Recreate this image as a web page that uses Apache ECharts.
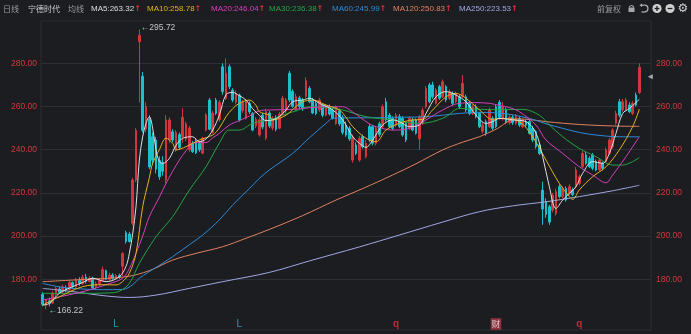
<!DOCTYPE html>
<html><head><meta charset="utf-8">
<script src="https://cdn.jsdelivr.net/npm/echarts@6/dist/echarts.min.js"></script>
<style>html,body{margin:0;padding:0;background:#1c1d21;}#c{width:691px;height:334px;}</style>
</head><body><div id="c"></div>
<script>
// [open, close, low, high]
const candles = [
[173.0,168.5,167.5,174.0],[168.0,170.5,166.22,171.0],[170.0,168.8,167.5,171.5],[169.0,173.5,168.5,174.5],[173.0,175.8,172.0,176.5],
[175.5,174.0,173.2,176.8],[174.2,176.5,173.5,177.5],[176.0,175.0,174.0,177.2],[175.2,178.6,174.8,179.5],[178.5,176.8,175.5,179.0],
[176.5,179.8,176.0,180.6],[179.5,178.2,177.0,181.0],[178.0,181.0,177.5,182.0],[181.0,179.0,178.0,182.5],[179.0,180.5,178.5,181.5],
[180.5,176.0,175.5,181.2],[176.5,178.0,175.5,179.0],[177.8,179.5,177.0,180.5],[179.5,184.5,179.0,186.0],[184.0,180.0,179.5,184.5],
[180.0,182.0,179.0,183.0],[182.0,180.5,179.8,182.8],[180.5,181.8,180.0,182.5],[181.8,181.0,180.2,182.6],[186.0,192.0,181.5,192.5],
[201.5,197.5,196.5,202.5],[201.0,197.5,197.0,202.0],[206.0,226.0,205.0,227.0],[226.0,249.0,225.0,250.0],[290.0,293.0,261.8,295.72],
[274.0,249.0,248.0,276.0],[249.5,260.0,248.0,262.0],[254.0,232.0,231.0,256.0],[246.0,235.2,233.0,248.0],[244.5,231.0,229.0,246.0],
[235.0,227.5,226.0,237.0],[234.0,230.0,228.0,237.0],[226.0,253.8,224.4,256.0],[244.5,253.8,243.0,255.0],[248.3,244.5,243.5,249.5],
[240.0,248.0,239.0,249.0],[247.0,241.0,240.0,248.0],[246.0,255.0,243.0,259.2],[245.0,252.0,244.0,253.0],[240.0,250.0,239.0,251.0],
[243.0,239.1,238.5,244.0],[244.0,238.5,238.0,245.0],[243.0,240.0,239.0,244.0],[238.4,245.3,238.0,246.0],[249.1,256.1,248.5,257.0],
[263.0,249.5,249.0,264.0],[248.0,257.0,247.5,258.0],[263.0,256.8,256.0,264.0],[254.0,262.0,253.0,263.0],[278.4,266.9,265.5,280.0],
[263.8,275.4,263.0,282.3],[278.4,269.2,268.0,279.5],[267.6,263.0,262.0,268.5],[262.0,266.0,261.0,267.5],[265.3,253.8,253.0,266.0],
[258.0,262.0,257.0,263.0],[254.5,262.2,254.0,263.0],[261.5,257.5,256.5,262.5],[256.8,249.1,248.5,257.5],[251.0,254.0,250.0,255.0],
[246.8,253.8,246.0,255.0],[256.0,250.5,249.5,257.0],[245.3,257.6,244.5,259.0],[257.0,251.0,250.0,258.0],[250.0,254.0,249.0,255.5],
[255.0,249.5,248.5,256.0],[250.0,256.5,249.5,257.5],[256.8,263.8,256.0,265.0],[258.0,263.0,257.0,264.0],[275.4,263.0,262.0,276.5],
[267.0,260.0,259.5,268.0],[258.5,264.5,258.0,266.0],[264.0,260.0,259.0,265.0],[263.0,259.0,258.0,264.0],[264.6,272.0,264.0,273.5],
[268.4,262.2,261.5,269.5],[263.0,257.0,256.5,264.0],[261.5,256.8,256.0,262.5],[258.4,263.0,257.5,264.0],[260.7,256.0,255.0,261.5],
[256.0,259.9,255.5,261.0],[259.9,256.5,255.8,261.0],[258.4,254.5,254.0,259.5],[252.2,259.9,251.5,260.5],[258.0,252.0,251.0,259.0],
[255.0,248.0,247.0,256.0],[251.4,246.8,246.0,253.0],[250.0,245.0,244.0,251.0],[235.2,246.0,234.0,247.0],[242.2,238.3,237.5,243.5],
[235.2,245.3,234.5,246.5],[246.0,241.4,240.5,247.0],[236.8,243.0,236.0,244.5],[250.7,244.5,243.5,252.0],[250.7,243.0,242.0,251.5],
[243.0,249.9,242.0,251.0],[252.0,247.0,246.0,253.0],[250.7,259.9,250.0,261.0],[262.2,253.8,253.0,264.0],[256.0,250.7,250.0,257.0],
[254.5,249.9,249.0,255.5],[251.4,256.0,250.5,257.0],[255.3,250.7,250.0,256.5],[254.5,246.8,246.0,255.5],[252.2,244.5,243.5,253.0],
[249.9,254.5,249.0,255.5],[253.8,249.1,248.5,255.0],[253.8,247.6,247.0,254.5],[245.0,255.3,240.0,256.0],[252.2,258.4,251.5,259.5],
[259.9,268.4,259.0,269.5],[270.0,262.2,261.5,271.0],[270.0,264.5,263.5,271.5],[261.5,267.6,261.0,268.5],[269.2,263.8,263.0,270.0],
[264.5,271.5,264.0,272.5],[269.2,263.0,262.0,270.0],[263.8,266.9,263.0,268.0],[266.1,261.5,260.5,267.0],[262.2,266.1,261.5,267.0],
[264.5,259.9,259.0,265.5],[264.5,270.7,264.0,274.6],[264.5,258.4,257.5,265.5],[261.5,256.8,256.0,262.5],[256.8,259.9,256.0,261.0],
[259.9,255.3,254.5,261.0],[256.8,250.7,250.0,257.5],[248.5,251.5,247.5,252.5],[253.0,247.6,246.5,254.0],[250.7,258.4,250.0,259.5],
[254.5,249.9,249.0,255.5],[259.9,250.7,250.0,261.0],[262.0,255.0,254.0,263.0],[254.5,260.0,253.5,262.2],[258.4,253.0,252.0,259.5],
[252.5,255.0,251.5,256.0],[255.0,252.5,251.5,256.0],[252.2,255.3,251.5,256.5],[254.5,251.4,250.5,255.5],[250.7,253.8,250.0,254.5],
[253.0,251.4,250.5,254.0],[253.0,247.6,247.0,254.0],[249.9,244.5,243.5,251.0],[248.3,241.4,240.5,249.0],[242.2,238.3,237.5,243.0],
[221.3,212.5,205.2,225.2],[216.0,210.0,208.5,217.5],[213.6,206.5,205.2,214.5],[212.0,219.0,211.0,220.0],[210.5,220.6,209.5,222.0],
[222.9,218.3,217.5,224.0],[218.3,222.1,217.5,223.0],[222.1,216.7,216.0,223.0],[219.8,222.9,219.0,224.0],[221.3,219.1,218.5,222.5],
[222.9,230.6,222.0,232.0],[224.4,227.5,223.5,228.5],[232.1,238.3,231.5,239.5],[237.6,233.7,233.0,239.0],[236.0,232.1,231.5,237.0],
[237.6,231.4,230.5,238.5],[234.5,230.6,230.0,235.5],[230.6,235.2,230.0,236.0],[233.7,231.4,230.5,234.5],[234.5,239.9,234.0,241.0],
[238.3,244.5,237.5,245.5],[241.4,249.1,240.5,250.0],[252.2,256.8,251.5,258.0],[262.2,256.0,255.0,263.5],[258.4,262.2,257.5,263.5],
[258.4,262.9,257.8,264.0],[260.7,257.6,257.0,262.0],[256.8,261.5,256.0,262.5],[265.3,260.7,260.0,266.5],[266.5,278.2,265.8,280.0]
];
// moving averages: [candle index, value]
const ma5 = [[0,168.1],[2,168.8],[5,173.5],[9,176.6],[12,178.5],[15,180.5],[19,178.9],[23,181.2],[25,186],[26,192],[27,201],[28,213.6],[29,235.2],[30,246],[31,252.2],[32,255.3],[33,250],[34,240],[35,234.5],[36,233.7],[38,236],[40,242],[42,245.3],[45,246],[47,243.7],[49,245],[51,249.1],[53,256],[55,265.5],[57,266.5],[59,265],[61,263],[63,259],[65,256],[67,253.5],[69,253.8],[71,255.3],[73,258.4],[75,262.2],[78,263],[80,263.8],[83,261.5],[87,258.4],[90,253.8],[93,246],[95,243],[97,241.1],[99,244.5],[102,251.4],[105,253.8],[107,253],[110,250.7],[113,251.4],[115,256.8],[118,264.5],[121,266.9],[124,265.3],[127,262.2],[130,256],[133,252.2],[135,253],[137,254.5],[141,253.8],[145,253],[148,247.6],[150,236.8],[152,222.9],[154,212.8],[156,216.7],[158,219.8],[160,222.9],[162,229.1],[165,234.5],[168,233.7],[170,238.3],[172,247.6],[174,256.8],[176,259.1],[179,263.32]];
const ma10 = [[0,168.1],[5,171.9],[12,176.6],[18,177.5],[22,177.4],[24,179],[26,182.8],[28,192],[30,213.6],[32,227],[33,233.7],[35,240],[37,245.3],[39,243],[40,239.9],[43,241.4],[47,244.5],[51,246.8],[53,250],[55,255.3],[57,259],[59,261.5],[62,263],[64,260.5],[65,257.6],[68,256],[69,253.8],[73,256],[76,260],[78,262.2],[81,263],[85,260.7],[89,258.4],[91,255],[93,250.7],[97,245.3],[100,243.7],[103,249.1],[107,252.2],[111,253.8],[114,254],[117,258.4],[121,264.5],[124,266.1],[127,263.8],[131,258.5],[135,254],[137,254.5],[143,253],[147,246],[151,235.2],[155,224.4],[158,218.3],[159,217],[161,221.4],[165,227.5],[169,232.1],[173,239.9],[177,250.7],[179,258.78]];
const ma20 = [[0,170.4],[7,172.5],[14,175.1],[20,178],[24,180.5],[26,185],[28,192],[30,200],[32,209],[35,218],[37,224.4],[39,230],[41,235.2],[43,239.5],[45,243],[47,243.3],[49,243.3],[51,245.5],[53,247.6],[56,251.4],[59,253.5],[62,255.6],[65,258],[68,258.4],[75,258.7],[85,259.9],[90,259.9],[93,257.5],[95,255.3],[98,252],[100,250.7],[105,249.1],[110,249.9],[115,253.8],[120,258.4],[125,261.5],[130,261.8],[134,261.5],[137,260.5],[140,259.5],[143,257.6],[148,251.4],[151,244.5],[156,238.3],[161,232.1],[165,228.3],[169,224.7],[171,228.3],[175,236.8],[179,246.04]];
const ma30 = [[0,173.5],[10,173.5],[20,173.7],[23,174.5],[26,178.1],[29,187.4],[34,199.7],[39,209],[44,221.3],[49,232.1],[53,243],[56,249.1],[59,249.1],[63,252.2],[68,253.8],[72,256],[76,258],[80,259.9],[85,259.5],[90,258.4],[97,255.3],[105,253.8],[113,252.2],[117,253],[121,255.3],[125,259.1],[130,258.8],[137,258.5],[144,258.7],[149,256],[152,251.5],[156,246],[161,240.6],[166,236.8],[171,232.9],[174,232.9],[177,234.5],[179,236.38]];
const ma60 = [[0,178.1],[5,176.5],[9,175.8],[18,175.2],[24,175.3],[27,177.5],[29,180.5],[34,185.5],[39,190.5],[44,196],[48,200.5],[53,207.5],[57,214.4],[62,222],[65,226.7],[68,230.6],[75,238.3],[80,245.5],[85,252.2],[87,254.5],[90,254.7],[100,254.8],[105,255],[115,255.3],[125,256.8],[131,257.3],[137,257],[146,254.5],[151,252],[156,249.9],[161,248],[166,246.8],[173,246],[179,245.99]];
const ma120 = [[0,178.9],[13,180],[25,181.2],[32,184],[39,188.9],[46,192],[54,195.1],[61,199],[68,203.1],[78,209.5],[88,216.7],[96,222],[105,228.3],[112,233.5],[120,239.9],[126,243.5],[131,246],[136,249.5],[142,254.3],[146,254],[151,253],[161,251.7],[171,251],[179,250.83]];
const ma250 = [[0,175.8],[9,174.3],[19,172.3],[26,171.6],[34,172.7],[44,175.8],[54,178.9],[68,183.2],[80,188.5],[95,195],[107,200.5],[120,206.5],[131,211.3],[141,214],[151,215.9],[161,218.3],[171,221],[179,223.53]];
const yTicks = [180, 200, 220, 240, 260, 280];
const events = [[22,'L'],[59,'L'],[106,'q'],[136,'财'],[161,'q']];
const eventLevel = 159.3;
const priceTag = 273.8;
const slotCount = 183;
const yMin = 156.53, yMax = 299.6;

const UP = '#d2353c', DOWN = '#1bc0cc';
const maDefs = [
  ['MA5', ma5, '#dedede', 91],
  ['MA10', ma10, '#e3b21c', 147],
  ['MA20', ma20, '#d440bd', 211],
  ['MA30', ma30, '#21a544', 269],
  ['MA60', ma60, '#2d8ad8', 332],
  ['MA120', ma120, '#e0805f', 393],
  ['MA250', ma250, '#a2a6e2', 459]
];
const slots = Array.from({length: slotCount}, (_, i) => String(i));
const FONT = '"Liberation Sans", Arial, "Noto Sans CJK SC", sans-serif';
const CJK = '"Noto Sans CJK SC", sans-serif';

const graphic = [
  {type:'text', x:3, y:8.5, style:{text:'日线', fill:'#9c9c9c', font:'8px ' + CJK, verticalAlign:'middle'}},
  {type:'text', x:28, y:8.5, style:{text:'宁德时代', fill:'#cfcfcf', font:'8px ' + CJK, verticalAlign:'middle'}},
  {type:'text', x:68, y:8.5, style:{text:'均线', fill:'#9c9c9c', font:'8px ' + CJK, verticalAlign:'middle'}},
  {type:'text', x:597, y:8.5, style:{text:'前复权', fill:'#9c9c9c', font:'8px ' + CJK, verticalAlign:'middle'}},
  // lock
  {type:'rect', shape:{x:628.5, y:7.5, width:6, height:4.5}, style:{fill:'#a8a8a8'}},
  {type:'arc', shape:{cx:631.5, cy:7.5, r:2, startAngle:Math.PI, endAngle:2*Math.PI}, style:{stroke:'#a8a8a8', lineWidth:1.2, fill:null}},
  // undo
  {type:'arc', shape:{cx:644.5, cy:8.6, r:3.4, startAngle:-Math.PI/2, endAngle:Math.PI/2, clockwise:true}, style:{stroke:'#b0b0b0', lineWidth:1.3, fill:null}},
  {type:'line', shape:{x1:641.5, y1:5.2, x2:644.5, y2:5.2}, style:{stroke:'#b0b0b0', lineWidth:1.3}},
  {type:'line', shape:{x1:641.5, y1:12, x2:644.5, y2:12}, style:{stroke:'#b0b0b0', lineWidth:1.3}},
  {type:'polygon', shape:{points:[[639.5,5.2],[642,3.4],[642,7]]}, style:{fill:'#b0b0b0'}},
  // plus
  {type:'circle', shape:{cx:657, cy:8.5, r:4.6}, style:{fill:'#cfcfcf'}},
  {type:'line', shape:{x1:654.6, y1:8.5, x2:659.4, y2:8.5}, style:{stroke:'#1c1d21', lineWidth:1.3}},
  {type:'line', shape:{x1:657, y1:6.1, x2:657, y2:10.9}, style:{stroke:'#1c1d21', lineWidth:1.3}},
  // minus
  {type:'circle', shape:{cx:670, cy:8.5, r:4.6}, style:{fill:'#cfcfcf'}},
  {type:'line', shape:{x1:667.6, y1:8.5, x2:672.4, y2:8.5}, style:{stroke:'#1c1d21', lineWidth:1.3}},
  // gear
  {type:'text', x:683, y:8.5, style:{text:'⚙', fill:'#cfcfcf', font:'12px "DejaVu Sans"', align:'center', verticalAlign:'middle'}}
];
maDefs.forEach(([name, arr, color, x]) => {
  const last = arr[arr.length - 1][1];
  graphic.push({type:'text', x:x, y:8.5, style:{
    text:'{v|' + name + ':' + last.toFixed(2) + '}{a|↑}', verticalAlign:'middle',
    rich:{v:{fill:color, font:'8px ' + FONT}, a:{fill:'#e0303a', font:'bold 8px "DejaVu Sans"'}}
  }});
});

const yAxisCommon = {
  type:'value', min:yMin, max:yMax, scale:true,
  axisLine:{show:false}, axisTick:{show:false, customValues:yTicks},
  axisLabel:{customValues:yTicks, color:'#d7353d', fontSize:8.5, fontFamily:FONT, formatter:v => v.toFixed(2)}
};

const series = [{
  type:'candlestick', data:candles, barWidth:2, z:2,
  itemStyle:{color:UP, color0:DOWN, borderColor:UP, borderColor0:DOWN, borderWidth:1},
  markPoint:{
    symbol:'circle', symbolSize:1, itemStyle:{color:'rgba(0,0,0,0)'},
    label:{show:true, position:'right', distance:1, color:'#c4c4c4', fontSize:8.5, fontFamily:FONT,
      formatter:p => '←' + Number(p.value).toFixed(2)},
    data:[
      {type:'max', valueDim:'highest', label:{offset:[0,-2]}},
      {type:'min', valueDim:'lowest', label:{offset:[1,2]}},
      {coord:[slotCount - 1, priceTag], symbol:'triangle', symbolSize:[5,5], symbolRotate:90, symbolOffset:[1,0],
       itemStyle:{color:'#a9a9a9'}, label:{show:false}}
    ]
  }
}];
maDefs.slice().reverse().forEach(([name, arr, color]) => {
  series.push({type:'line', name:name, data:arr, smooth:0.35, showSymbol:false, z:3,
    lineStyle:{color:color, width:1}, itemStyle:{color:color}});
});
series.push({
  type:'scatter', z:4, symbolSize:1, itemStyle:{color:'rgba(0,0,0,0)'},
  data:events.map(([idx, txt]) => {
    const isCai = txt === '财';
    return {value:[idx, eventLevel], label:{show:true, position:'inside', formatter:txt,
      color: txt === 'L' ? DOWN : (isCai ? '#f2f2f2' : '#e0303a'),
      fontSize: isCai ? 8.5 : 10, fontFamily: isCai ? CJK : FONT, fontWeight: txt === 'q' ? 'bold' : 'normal',
      backgroundColor: isCai ? '#b23746' : 'transparent', padding: isCai ? [1.5,1] : 0}};
  })
});

const chart = echarts.init(document.getElementById('c'));
chart.setOption({
  animation:false,
  backgroundColor:'#1c1d21',
  graphic:graphic,
  grid:{left:41, top:21, width:610, height:309, show:true, borderColor:'#2c2f36', borderWidth:1, backgroundColor:'transparent'},
  xAxis:{type:'category', data:slots, boundaryGap:true, axisLine:{show:false}, axisTick:{show:false}, axisLabel:{show:false}, splitLine:{show:false}},
  yAxis:[
    Object.assign({}, yAxisCommon, {position:'left', splitLine:{show:true, lineStyle:{color:'#2c2f36', width:1}},
      axisLabel:Object.assign({}, yAxisCommon.axisLabel, {margin:4})}),
    Object.assign({}, yAxisCommon, {position:'right', splitLine:{show:false},
      axisLabel:Object.assign({}, yAxisCommon.axisLabel, {margin:5})})
  ],
  series:series
});
</script></body></html>
